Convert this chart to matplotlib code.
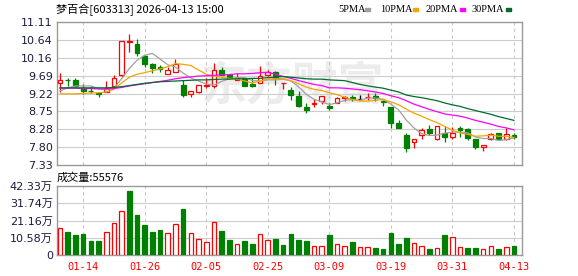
import numpy as np
import matplotlib
matplotlib.use("Agg")
import matplotlib.pyplot as plt
from matplotlib.patches import Rectangle

plt.rcParams['font.family'] = ['DejaVu Sans', 'Noto Sans CJK SC']

# ---- data (60 trading days, 2026-01-09 .. 2026-04-13)
opens = [9.49, 9.58, 9.57, 9.37, 9.29, 9.22, 9.25, 9.42, 9.72, 10.59,
         10.53, 10.21, 10.01, 9.91, 9.73, 9.80, 9.44, 9.21, 9.27, 9.43,
         9.42, 9.85, 9.73, 9.59, 9.63, 9.46, 9.49, 9.72, 9.79, 9.50,
         9.30, 9.16, 8.87, 8.95, 9.02, 8.90, 8.97, 9.11, 9.12, 9.08,
         9.12, 9.16, 9.02, 8.87, 8.44, 8.13, 7.95, 8.13, 8.29, 8.03,
         8.17, 8.06, 8.31, 8.29, 8.02, 7.81, 8.03, 8.17, 8.03, 8.13]
highs = [9.77, 9.62, 9.62, 9.46, 9.42, 9.27, 9.55, 9.70, 10.61, 10.80,
         10.67, 10.25, 10.02, 9.98, 9.92, 10.12, 9.57, 9.29, 9.44, 9.62,
         10.03, 9.92, 9.74, 9.75, 9.64, 9.62, 9.95, 9.83, 9.81, 9.51,
         9.38, 9.29, 8.96, 9.07, 9.16, 8.98, 9.12, 9.15, 9.18, 9.18,
         9.24, 9.24, 9.06, 8.87, 8.51, 8.17, 8.03, 8.31, 8.39, 8.37,
         8.35, 8.34, 8.35, 8.31, 8.03, 7.87, 8.17, 8.17, 8.31, 8.17]
lows = [9.27, 9.43, 9.42, 9.21, 9.24, 9.14, 9.25, 9.42, 9.65, 10.32,
        10.21, 9.92, 9.77, 9.79, 9.73, 9.80, 9.13, 9.12, 9.24, 9.36,
        9.37, 9.70, 9.60, 9.57, 9.42, 9.38, 9.49, 9.67, 9.44, 9.34,
        9.06, 8.87, 8.70, 8.87, 8.95, 8.79, 8.97, 9.03, 9.03, 9.08,
        9.06, 9.03, 8.88, 8.30, 8.30, 7.67, 7.77, 8.03, 8.13, 7.99,
        7.95, 8.03, 8.08, 8.00, 7.76, 7.70, 8.00, 8.01, 7.99, 8.01]
closes = [9.59, 9.57, 9.42, 9.29, 9.28, 9.20, 9.37, 9.62, 10.60, 10.60,
          10.30, 10.01, 9.90, 9.86, 9.85, 9.99, 9.18, 9.29, 9.44, 9.44,
          9.83, 9.70, 9.63, 9.62, 9.42, 9.41, 9.67, 9.79, 9.62, 9.51,
          9.18, 8.90, 8.79, 8.96, 9.16, 8.84, 9.10, 9.12, 9.08, 9.08,
          9.13, 9.09, 8.99, 8.43, 8.30, 7.78, 8.03, 8.26, 8.17, 8.35,
          8.06, 8.17, 8.26, 8.04, 7.81, 7.87, 8.16, 8.01, 8.14, 8.06]

ma5 = [9.29, 9.37, 9.42, 9.42, 9.42, 9.35, 9.32, 9.36, 9.61, 9.88,
       10.10, 10.23, 10.28, 10.13, 9.98, 9.92, 9.76, 9.63, 9.55, 9.47,
       9.44, 9.54, 9.61, 9.64, 9.64, 9.56, 9.55, 9.58, 9.58, 9.60,
       9.55, 9.40, 9.20, 9.07, 9.00, 8.93, 8.97, 9.04, 9.06, 9.04,
       9.10, 9.10, 9.07, 8.94, 8.79, 8.52, 8.31, 8.16, 8.11, 8.12,
       8.17, 8.20, 8.20, 8.18, 8.07, 8.03, 8.03, 7.98, 8.00, 8.05]
ma10 = [9.21, 9.21, 9.21, 9.22, 9.23, 9.24, 9.26, 9.33, 9.50, 9.65,
        9.73, 9.77, 9.82, 9.87, 9.93, 10.01, 9.99, 9.96, 9.84, 9.73,
        9.68, 9.65, 9.62, 9.60, 9.55, 9.50, 9.55, 9.60, 9.61, 9.62,
        9.56, 9.48, 9.39, 9.33, 9.30, 9.24, 9.19, 9.12, 9.06, 9.02,
        9.02, 9.04, 9.06, 9.00, 8.92, 8.81, 8.70, 8.62, 8.53, 8.45,
        8.35, 8.25, 8.18, 8.14, 8.09, 8.10, 8.12, 8.09, 8.09, 8.06]
ma20 = [9.36, 9.36, 9.36, 9.35, 9.35, 9.34, 9.34, 9.35, 9.38, 9.42,
        9.45, 9.48, 9.51, 9.54, 9.57, 9.61, 9.64, 9.66, 9.68, 9.69,
        9.70, 9.71, 9.72, 9.74, 9.74, 9.75, 9.77, 9.78, 9.73, 9.67,
        9.62, 9.56, 9.51, 9.46, 9.43, 9.37, 9.37, 9.36, 9.34, 9.32,
        9.29, 9.26, 9.22, 9.16, 9.11, 9.03, 8.94, 8.87, 8.80, 8.74,
        8.68, 8.65, 8.62, 8.57, 8.51, 8.46, 8.41, 8.35, 8.31, 8.26]
ma30 = [9.37, 9.37, 9.37, 9.37, 9.37, 9.37, 9.37, 9.38, 9.40, 9.43,
        9.46, 9.49, 9.51, 9.53, 9.54, 9.55, 9.56, 9.57, 9.58, 9.58,
        9.59, 9.60, 9.60, 9.61, 9.61, 9.62, 9.62, 9.64, 9.65, 9.67,
        9.65, 9.63, 9.61, 9.60, 9.60, 9.58, 9.57, 9.56, 9.51, 9.46,
        9.42, 9.39, 9.36, 9.31, 9.26, 9.18, 9.14, 9.11, 9.07, 9.03,
        8.97, 8.92, 8.88, 8.82, 8.77, 8.72, 8.67, 8.61, 8.56, 8.51]

# volume in 万 (10k lots), and whether bar is red (up)
volume = [16.5, 14.3, 12.4, 13.0, 8.8, 8.8, 14.1, 19.6, 26.9, 39.3,
          24.8, 18.5, 14.3, 15.5, 13.4, 19.1, 28.3, 13.4, 9.8, 8.1,
          20.2, 14.9, 9.4, 6.9, 8.8, 6.9, 13.0, 9.4, 10.0, 6.3,
          13.0, 9.4, 8.8, 5.5, 5.5, 12.4, 6.9, 5.5, 8.1, 4.9,
          4.9, 4.5, 3.9, 13.6, 6.9, 10.6, 7.5, 5.5, 3.9, 4.5,
          12.4, 11.0, 4.9, 4.5, 4.5, 3.9, 5.5, 3.9, 4.9, 5.56]
vol_up = [1, 0, 0, 0, 0, 0, 1, 1, 1, 0,
          0, 0, 0, 0, 1, 1, 0, 1, 1, 1,
          1, 0, 0, 1, 0, 0, 1, 1, 0, 0,
          0, 0, 0, 1, 1, 0, 1, 1, 0, 1,
          1, 0, 0, 0, 0, 0, 1, 1, 0, 1,
          0, 1, 1, 0, 0, 1, 1, 0, 1, 0]

date_idx = [3, 11, 19, 27, 35, 43, 51, 59]
date_labels = ['01-14', '01-26', '02-05', '02-25', '03-09', '03-19', '03-31', '04-13']

price_ticks = ['7.33', '7.80', '8.28', '8.75', '9.22', '9.69', '10.16', '10.64', '11.11']
vol_ticks = ['0', '10.58万', '21.16万', '31.74万', '42.33万']

RED = '#ff0000'
GREEN = '#008000'
FRAME = '#999999'
GRID = '#cccccc'
LABEL = '#1a1a40'

W, H = 578, 276
fig = plt.figure(figsize=(W / 100, H / 100), dpi=100)
fig.patch.set_facecolor('white')

ax = fig.add_axes([57 / W, (H - 165) / H, 465 / W, 143 / H])
axv = fig.add_axes([57 / W, (H - 255) / H, 465 / W, 69 / H])

x = np.arange(len(closes))
o = np.array(opens)
c = np.array(closes)
hi = np.array(highs)
lo = np.array(lows)

# candle colours
ccol = []
for oo, cc in zip(o, c):
    if cc > oo:
        ccol.append(RED)
    elif cc < oo:
        ccol.append(GREEN)
    else:
        ccol.append('black')
face = ['white' if col == RED else col for col in ccol]

ax.vlines(x, lo, hi, colors=ccol, lw=0.9, zorder=3)
body_h = np.maximum(np.abs(c - o), 0.006)
ax.bar(x, body_h, bottom=np.minimum(o, c), width=0.62, color=face,
       edgecolor=ccol, linewidth=0.9, zorder=4)

ax.plot(x, ma5, color='#a0a0a0', lw=0.9, zorder=5)
ax.plot(x, ma10, color='#f5a300', lw=0.9, zorder=5)
ax.plot(x, ma20, color='#ff00ff', lw=0.9, zorder=5)
ax.plot(x, ma30, color='#006b2e', lw=0.9, zorder=5)

ax.text(0.505, 0.54, '东方财富', transform=ax.transAxes, fontsize=33,
        color='#ececec', ha='center', va='center', weight='bold',
        family=['Noto Sans CJK SC'], zorder=0)

# volume
vcol = [RED if u else GREEN for u in vol_up]
vface = ['white' if u else GREEN for u in vol_up]
axv.bar(x, volume, width=0.6, color=vface, edgecolor=vcol, linewidth=0.9, zorder=3)

# axes styling
for a in (ax, axv):
    a.set_xlim(-0.4, 60.05)
    for s in a.spines.values():
        s.set_color(FRAME)
        s.set_linewidth(1.0)
    for d in date_idx:
        a.axvline(d, color='#c8c8c8', lw=0.8, ls=(0, (3, 3)), zorder=1)
    a.tick_params(axis='y', length=0, pad=3, labelsize=8, labelcolor=LABEL)
    a.tick_params(axis='x', length=0)

pt = np.linspace(7.33, 11.11, 9)
ax.set_ylim(7.33, 11.11)
ax.set_yticks(pt, price_ticks)
for v in pt[1:-1]:
    ax.axhline(v, color=GRID, lw=0.8, zorder=1)
ax.set_xticks([])

vt = np.linspace(0, 42.33, 5)
axv.set_ylim(0, 42.33)
axv.set_yticks(vt, vol_ticks)
for v in vt[1:-1]:
    axv.axhline(v, color=GRID, lw=0.8, zorder=1)
axv.set_xticks(date_idx, date_labels)
axv.tick_params(axis='x', pad=5, labelsize=7.5, labelcolor=RED)
for t in axv.get_xticklabels():
    t.set_family('DejaVu Sans Mono')

# header
fig.text(56 / W, 1 - 10 / H, '梦百合[603313] 2026-04-13 15:00', fontsize=8,
         family=['Noto Sans CJK SC'], va='center', ha='left', color='black')

legend = [('5PMA', '#a0a0a0', 338, 365), ('10PMA', '#f5a300', 380, 413),
          ('20PMA', '#ff00ff', 426, 460), ('30PMA', '#006b2e', 472, 506)]
for name, col, tx, sx in legend:
    fig.text(tx / W, 1 - 9.5 / H, name, fontsize=7.5, family='Liberation Serif',
             va='center', ha='left', color='black')
    fig.patches.append(Rectangle((sx / W, 1 - 11 / H), 5 / W, 3.5 / H,
                                 transform=fig.transFigure, color=col))

fig.text(57 / W, 1 - 177.5 / H, '成交量:55576', fontsize=8,
         family=['Noto Sans CJK SC'], va='center', ha='left', color='black')

fig.savefig('out.png', dpi=100, facecolor='white')
